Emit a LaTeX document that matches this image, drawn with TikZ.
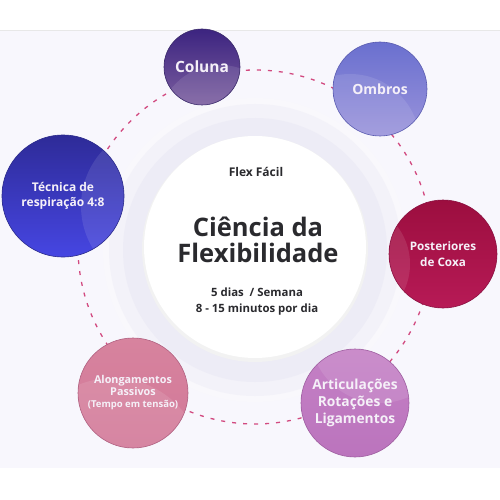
\documentclass[tikz,border=0pt]{standalone}
\usepackage{fontspec}
\setmainfont{Open Sans}
\usepackage{tikz}
\usetikzlibrary{positioning,calc}
\definecolor{lav}{HTML}{F8F7FD}
\definecolor{halo}{HTML}{EDECF6}
\definecolor{ink}{HTML}{2A2A2E}
\definecolor{orbitpink}{HTML}{D24A80}
\definecolor{txt}{HTML}{F5F0F8}
\definecolor{colA}{HTML}{3C2480}\definecolor{colB}{HTML}{7B5E9F}\definecolor{colE}{HTML}{3A2A6A}
\definecolor{ombA}{HTML}{6A70CF}\definecolor{ombB}{HTML}{9A93DB}\definecolor{ombE}{HTML}{5A5CB0}
\definecolor{tecA}{HTML}{2E2B98}\definecolor{tecB}{HTML}{4646E2}\definecolor{tecE}{HTML}{2A2A8A}
\definecolor{coxA}{HTML}{9C0E3F}\definecolor{coxB}{HTML}{B71A56}\definecolor{coxE}{HTML}{8A1040}
\definecolor{pasA}{HTML}{D7839E}\definecolor{pasB}{HTML}{D27898}\definecolor{pasE}{HTML}{B06080}
\definecolor{artA}{HTML}{C480C5}\definecolor{artB}{HTML}{BB74BD}\definecolor{artE}{HTML}{9E5EA0}
\tikzset{
  sat/.style={circle, align=center, text=txt, inner sep=0pt, line width=.6pt},
  glare/.style 2 args={path picture={\fill[white, opacity=.1] ([shift={(#1)}]path picture bounding box.center) circle[radius=#2];}},
  orbit/.style={draw=orbitpink, line width=1.3pt, dash pattern=on 4pt off 7pt},
  fs/.style 2 args={font=\bfseries\fontsize{#1}{#2}\selectfont}
}
\begin{document}
\begin{tikzpicture}[x=1pt, y=-1pt]
\useasboundingbox (0,0) rectangle (500,500);
\fill[white] (0,0) rectangle (500,500);
\fill[lav] (0,31) rectangle (500,468);
\draw[black!9, line width=.8pt] (0,30.5) -- (500,30.5);
% halo and hub
\fill[halo!35] (255,250) circle[radius=152];
\fill[halo!70] (255,250) circle[radius=146];
\fill[halo] (255,250) circle[radius=132];
\fill[black!5] (255,249) circle[radius=113];
\node[circle, fill=white, minimum size=222pt, inner sep=0pt] (hub) at (255,247) {};
\draw[orbit] (hub.center) circle[radius=177];
% centre texts
\node[fs={12}{14}, text=ink] (brand) at (256,172) {Flex Fácil};
\node[fs={25.5}{26}, text=ink, align=center] (title) at (258,240) {Ciência da\\Flexibilidade};
\node[fs={11.4}{16}, text=ink, align=center] (plan) at (257,302) {5 dias~ / Semana\\8 - 15 minutos por dia};
% satellites
\node[sat, minimum size=76pt, top color=colA, bottom color=colB, draw=colE,
  glare={18,60}{62}, fs={15.5}{18}] (coluna) at (202,67) {Coluna};
\node[sat, minimum size=94pt, top color=ombA, bottom color=ombB, draw=ombE,
  glare={-30,55}{70}, fs={14}{16}] (ombros) at (380,89) {Ombros};
\node[sat, minimum size=122pt, top color=tecA, bottom color=tecB, draw=tecE,
  glare={100,10}{82}, fs={12}{14.5}] (tecnica) at (63,196) {Técnica de\\respiração 4:8};
\node[sat, minimum size=108pt, top color=coxA, bottom color=coxB, draw=coxE,
  glare={-95,10}{62}, fs={11.7}{16}] (coxa) at (443,254) {Posteriores\\de Coxa};
\node[sat, minimum size=110pt, top color=pasA, bottom color=pasB, draw=pasE,
  glare={-20,75}{90}, fs={10.8}{12}] (passivos) at (133,393) {Alongamentos\\Passivos\\{\fontsize{9.5}{12}\selectfont(Tempo em tensão)}};
\node[sat, minimum size=108pt, top color=artA, bottom color=artB, draw=artE,
  glare={25,-70}{70}, fs={13.8}{17}] (artic) at (355,403) {Articulações\\Rotações e\\Ligamentos};
\end{tikzpicture}
\end{document}
